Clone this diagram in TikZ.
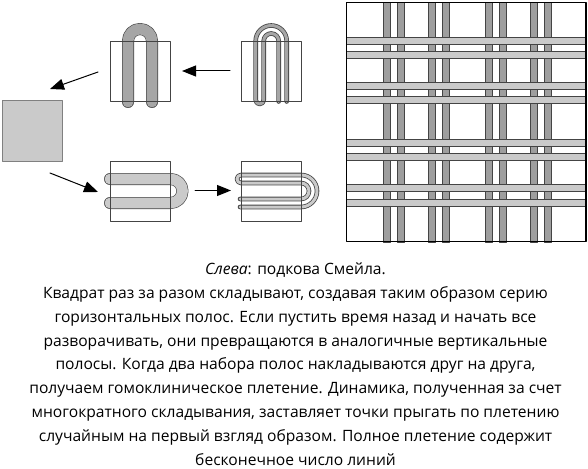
\documentclass[tikz,border=0pt]{standalone}
\usepackage{fontspec}
\setmainfont{Open Sans}
\usetikzlibrary{arrows.meta}
\definecolor{foldlight}{HTML}{CACACA}
\definecolor{folddark}{HTML}{A6A6A6}
\definecolor{weavedark}{HTML}{9E9E9E}
\definecolor{edgegray}{HTML}{444444}
\tikzset{
  >={Triangle[length=14pt, width=11pt]},
  every picture/.style={line cap=round, line join=round},
  panel/.style={draw=edgegray, line width=0.8pt, minimum size=60pt, inner sep=0pt, outer sep=0pt},
  startbox/.style={panel, draw=gray, fill=foldlight, line width=1pt},
  foldarrow/.style={->, line width=1pt, black},
  % strips: dark stroke under a narrower coloured stroke
  strip/.style n args={3}{preaction={draw=edgegray, line width=#1}, draw=#2, line width=#3},
  weave/.style={draw=edgegray, line width=0.8pt, line cap=butt},
}
\begin{document}
\begin{tikzpicture}[x=1pt, y=-1pt]
  \useasboundingbox (0,0) rectangle (588,468);
  % wide strips
  \draw[strip={12pt}{folddark}{10.8pt}] (128,102) -- (128,41) arc[start angle=180, end angle=360, radius=12] -- (152,102);
  \draw[strip={12pt}{foldlight}{10.8pt}] (110,179) -- (170.5,179) arc[start angle=-90, end angle=90, radius=12] -- (110,203);
  % thin strips
  \draw[strip={4.6pt}{folddark}{3pt}] (278.7,101.5) -- (278.7,41) arc[start angle=0, end angle=-180, radius=7.5] -- (263.7,100)
    arc[start angle=0, end angle=180, radius=4] -- (255.7,41) arc[start angle=180, end angle=360, radius=15.5] -- (286.7,101.5);
  \draw[strip={4.6pt}{foldlight}{3pt}] (240,199) -- (301,199) arc[start angle=90, end angle=-90, radius=8] -- (241,183)
    arc[start angle=90, end angle=270, radius=4] -- (301,175) arc[start angle=-90, end angle=90, radius=16] -- (240,207);
  % panels
  \node[startbox] (square) at (32,131) {};
  \node[panel] (foldtop) at (140,71.5) {};
  \node[panel] (foldtopthin) at (271.5,71) {};
  \node[panel] (foldbot) at (140.5,191) {};
  \node[panel] (foldbotthin) at (271,191) {};
  \coordinate (arrowa) at (98,72);
  \coordinate (arrowb) at (50,89);
  \coordinate (arrowc) at (50,173);
  \coordinate (arrowd) at (98,192);
  \coordinate (arrowe) at (230,71);
  \coordinate (arrowf) at (182,71);
  \coordinate (arrowg) at (195,190.5);
  \coordinate (arrowh) at (231,190.5);
  \draw[foldarrow] (arrowe) -- (arrowf);
  \draw[foldarrow] (arrowa) -- (arrowb);
  \draw[foldarrow] (arrowc) -- (arrowd);
  \draw[foldarrow] (arrowg) -- (arrowh);
  % tangle
  \foreach \vx in {387,400.7,432,446,489,502.7,534.3,548.3}
    \draw[weave, fill=weavedark] (\vx-3.5,2) rectangle (\vx+3.5,242);
  \foreach \hy in {40.8,55.2,86.3,100.3,143.2,157.2,188.3,202.5}
    \draw[weave, fill=foldlight] (346.5,\hy-3.5) rectangle (586,\hy+3.5);
  \node[draw=black, line width=1.2pt, minimum width=239.5pt, minimum height=239.5pt, inner sep=0pt] (tangle) at (466.25,122) {};
  % caption
  \node[align=center, font=\fontsize{15.6pt}{23.9pt}\selectfont, anchor=north] (caption) at (295.5,259) {%
    \textit{Слева}: подкова Смейла.\\
    Квадрат раз за разом складывают, создавая таким образом серию\\
    горизонтальных полос. Если пустить время назад и начать все\\
    разворачивать, они превращаются в аналогичные вертикальные\\
    полосы. Когда два набора полос накладываются друг на друга,\\
    получаем гомоклиническое плетение. Динамика, полученная за счет\\
    многократного складывания, заставляет точки прыгать по плетению\\
    случайным на первый взгляд образом. Полное плетение содержит\\
    бесконечное число линий};
\end{tikzpicture}
\end{document}
